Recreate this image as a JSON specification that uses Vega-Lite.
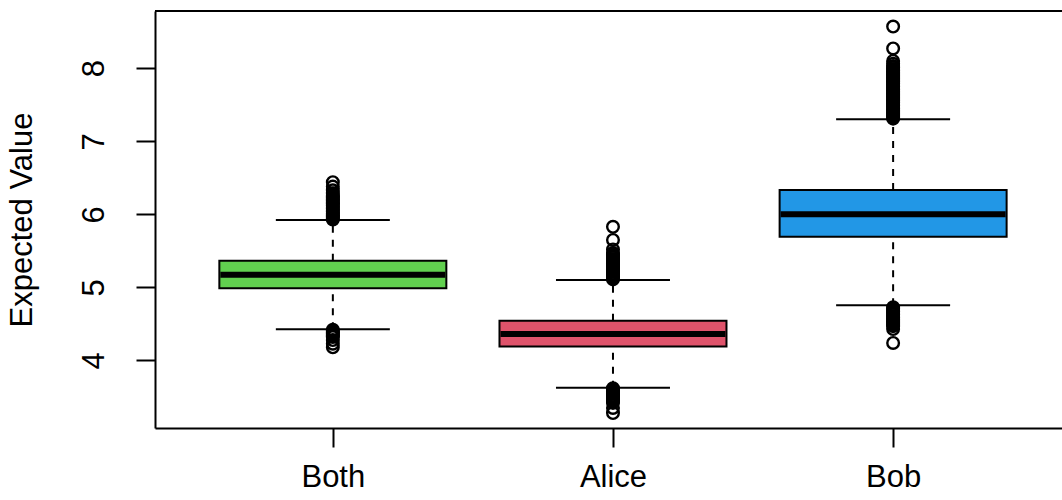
{
  "$schema": "https://vega.github.io/schema/vega-lite/v6.json",
  "width": 907,
  "height": 417,
  "autosize": {"type": "none"},
  "padding": {"left": 155, "top": 11, "right": 0, "bottom": 72},
  "background": "white",
  "config": {
    "view": {"stroke": null},
    "font": "Liberation Sans",
    "axis": {"grid": false, "domainColor": "black", "domainWidth": 2, "tickColor": "black", "tickWidth": 2, "tickSize": 19, "labelColor": "black", "titleColor": "black", "labelFont": "Liberation Sans", "titleFont": "Liberation Sans", "labelFontSize": 31, "titleFontSize": 31, "titleFontWeight": "normal"}
  },
  "datasets": {
    "boxes": [
      {"g": "Both", "pos": 1, "lo": 4.427, "q1": 4.99, "median": 5.174, "q3": 5.366, "hi": 5.923},
      {"g": "Alice", "pos": 2, "lo": 3.628, "q1": 4.19, "median": 4.363, "q3": 4.545, "hi": 5.10},
      {"g": "Bob", "pos": 3, "lo": 4.755, "q1": 5.695, "median": 6.0, "q3": 6.333, "hi": 7.30}
    ],
    "outliers": [
      {"g": "Both", "pos": 1, "v": 6.44}, {"g": "Both", "pos": 1, "v": 6.38}, {"g": "Both", "pos": 1, "v": 6.33}, {"g": "Both", "pos": 1, "v": 6.29}, {"g": "Both", "pos": 1, "v": 6.26}, {"g": "Both", "pos": 1, "v": 6.24}, {"g": "Both", "pos": 1, "v": 6.22}, {"g": "Both", "pos": 1, "v": 6.20}, {"g": "Both", "pos": 1, "v": 6.18}, {"g": "Both", "pos": 1, "v": 6.16}, {"g": "Both", "pos": 1, "v": 6.14}, {"g": "Both", "pos": 1, "v": 6.12}, {"g": "Both", "pos": 1, "v": 6.10}, {"g": "Both", "pos": 1, "v": 6.08}, {"g": "Both", "pos": 1, "v": 6.06}, {"g": "Both", "pos": 1, "v": 6.04}, {"g": "Both", "pos": 1, "v": 6.02}, {"g": "Both", "pos": 1, "v": 6.00}, {"g": "Both", "pos": 1, "v": 5.98}, {"g": "Both", "pos": 1, "v": 5.96}, {"g": "Both", "pos": 1, "v": 5.94}, {"g": "Both", "pos": 1, "v": 5.93},
      {"g": "Both", "pos": 1, "v": 4.42}, {"g": "Both", "pos": 1, "v": 4.40}, {"g": "Both", "pos": 1, "v": 4.38}, {"g": "Both", "pos": 1, "v": 4.36}, {"g": "Both", "pos": 1, "v": 4.34}, {"g": "Both", "pos": 1, "v": 4.32}, {"g": "Both", "pos": 1, "v": 4.28}, {"g": "Both", "pos": 1, "v": 4.23}, {"g": "Both", "pos": 1, "v": 4.18},
      {"g": "Alice", "pos": 2, "v": 5.83}, {"g": "Alice", "pos": 2, "v": 5.65}, {"g": "Alice", "pos": 2, "v": 5.52}, {"g": "Alice", "pos": 2, "v": 5.47}, {"g": "Alice", "pos": 2, "v": 5.45}, {"g": "Alice", "pos": 2, "v": 5.43}, {"g": "Alice", "pos": 2, "v": 5.41}, {"g": "Alice", "pos": 2, "v": 5.39}, {"g": "Alice", "pos": 2, "v": 5.37}, {"g": "Alice", "pos": 2, "v": 5.35}, {"g": "Alice", "pos": 2, "v": 5.33}, {"g": "Alice", "pos": 2, "v": 5.31}, {"g": "Alice", "pos": 2, "v": 5.29}, {"g": "Alice", "pos": 2, "v": 5.27}, {"g": "Alice", "pos": 2, "v": 5.25}, {"g": "Alice", "pos": 2, "v": 5.23}, {"g": "Alice", "pos": 2, "v": 5.21}, {"g": "Alice", "pos": 2, "v": 5.19}, {"g": "Alice", "pos": 2, "v": 5.17}, {"g": "Alice", "pos": 2, "v": 5.15}, {"g": "Alice", "pos": 2, "v": 5.13}, {"g": "Alice", "pos": 2, "v": 5.11},
      {"g": "Alice", "pos": 2, "v": 3.62}, {"g": "Alice", "pos": 2, "v": 3.60}, {"g": "Alice", "pos": 2, "v": 3.58}, {"g": "Alice", "pos": 2, "v": 3.56}, {"g": "Alice", "pos": 2, "v": 3.54}, {"g": "Alice", "pos": 2, "v": 3.52}, {"g": "Alice", "pos": 2, "v": 3.50}, {"g": "Alice", "pos": 2, "v": 3.48}, {"g": "Alice", "pos": 2, "v": 3.46}, {"g": "Alice", "pos": 2, "v": 3.44}, {"g": "Alice", "pos": 2, "v": 3.42}, {"g": "Alice", "pos": 2, "v": 3.35}, {"g": "Alice", "pos": 2, "v": 3.28},
      {"g": "Bob", "pos": 3, "v": 8.57}, {"g": "Bob", "pos": 3, "v": 8.27}, {"g": "Bob", "pos": 3, "v": 8.10}, {"g": "Bob", "pos": 3, "v": 8.06}, {"g": "Bob", "pos": 3, "v": 8.03}, {"g": "Bob", "pos": 3, "v": 8.01}, {"g": "Bob", "pos": 3, "v": 7.99}, {"g": "Bob", "pos": 3, "v": 7.97}, {"g": "Bob", "pos": 3, "v": 7.95}, {"g": "Bob", "pos": 3, "v": 7.93}, {"g": "Bob", "pos": 3, "v": 7.91}, {"g": "Bob", "pos": 3, "v": 7.89}, {"g": "Bob", "pos": 3, "v": 7.87}, {"g": "Bob", "pos": 3, "v": 7.85}, {"g": "Bob", "pos": 3, "v": 7.83}, {"g": "Bob", "pos": 3, "v": 7.81}, {"g": "Bob", "pos": 3, "v": 7.79}, {"g": "Bob", "pos": 3, "v": 7.77}, {"g": "Bob", "pos": 3, "v": 7.75}, {"g": "Bob", "pos": 3, "v": 7.73}, {"g": "Bob", "pos": 3, "v": 7.71}, {"g": "Bob", "pos": 3, "v": 7.69}, {"g": "Bob", "pos": 3, "v": 7.67}, {"g": "Bob", "pos": 3, "v": 7.65}, {"g": "Bob", "pos": 3, "v": 7.63}, {"g": "Bob", "pos": 3, "v": 7.61}, {"g": "Bob", "pos": 3, "v": 7.59}, {"g": "Bob", "pos": 3, "v": 7.57}, {"g": "Bob", "pos": 3, "v": 7.55}, {"g": "Bob", "pos": 3, "v": 7.53}, {"g": "Bob", "pos": 3, "v": 7.51}, {"g": "Bob", "pos": 3, "v": 7.49}, {"g": "Bob", "pos": 3, "v": 7.47}, {"g": "Bob", "pos": 3, "v": 7.45}, {"g": "Bob", "pos": 3, "v": 7.43}, {"g": "Bob", "pos": 3, "v": 7.41}, {"g": "Bob", "pos": 3, "v": 7.39}, {"g": "Bob", "pos": 3, "v": 7.37}, {"g": "Bob", "pos": 3, "v": 7.35}, {"g": "Bob", "pos": 3, "v": 7.33}, {"g": "Bob", "pos": 3, "v": 7.31},
      {"g": "Bob", "pos": 3, "v": 4.73}, {"g": "Bob", "pos": 3, "v": 4.71}, {"g": "Bob", "pos": 3, "v": 4.69}, {"g": "Bob", "pos": 3, "v": 4.67}, {"g": "Bob", "pos": 3, "v": 4.65}, {"g": "Bob", "pos": 3, "v": 4.63}, {"g": "Bob", "pos": 3, "v": 4.61}, {"g": "Bob", "pos": 3, "v": 4.59}, {"g": "Bob", "pos": 3, "v": 4.57}, {"g": "Bob", "pos": 3, "v": 4.55}, {"g": "Bob", "pos": 3, "v": 4.53}, {"g": "Bob", "pos": 3, "v": 4.51}, {"g": "Bob", "pos": 3, "v": 4.49}, {"g": "Bob", "pos": 3, "v": 4.47}, {"g": "Bob", "pos": 3, "v": 4.43}, {"g": "Bob", "pos": 3, "v": 4.24}
    ]
  },
  "encoding": {
    "x": {"field": "pos", "type": "quantitative", "title": null, "scale": {"domain": [0.383, 3.585], "nice": false, "zero": false},
      "axis": {"values": [1, 2, 3], "title": null, "labelExpr": "datum.value == 1 ? 'Both' : datum.value == 2 ? 'Alice' : 'Bob'", "labelPadding": 15, "labelBaseline": "top", "labelAlign": "center", "labelFlush": false, "labelOverlap": false}}
  },
  "layer": [
    {
      "data": {"name": "boxes"},
      "mark": {"type": "rule", "color": "black", "strokeWidth": 2, "strokeDash": [7, 7]},
      "encoding": {
        "y": {"field": "q3", "type": "quantitative", "title": "Expected Value", "scale": {"domain": [3.076, 8.783], "nice": false, "zero": false},
          "axis": {"values": [4, 5, 6, 7, 8], "format": "d", "title": "Expected Value", "labelAngle": -90, "labelAlign": "center", "labelBaseline": "bottom", "labelPadding": 26, "labelFlush": false, "labelOverlap": false, "titleAngle": -90, "titleX": -133, "titleY": 208.5, "titleAlign": "center", "titleBaseline": "middle"}},
        "y2": {"field": "hi"}
      }
    },
    {
      "data": {"name": "boxes"},
      "mark": {"type": "rule", "color": "black", "strokeWidth": 2, "strokeDash": [7, 7]},
      "encoding": {
        "y": {"field": "lo", "type": "quantitative", "title": "Expected Value"},
        "y2": {"field": "q1"}
      }
    },
    {
      "data": {"name": "boxes"},
      "mark": {"type": "tick", "orient": "horizontal", "color": "black", "size": 114, "thickness": 2, "opacity": 1},
      "encoding": {
        "y": {"field": "hi", "type": "quantitative", "title": "Expected Value"}
      }
    },
    {
      "data": {"name": "boxes"},
      "mark": {"type": "tick", "orient": "horizontal", "color": "black", "size": 114, "thickness": 2, "opacity": 1},
      "encoding": {
        "y": {"field": "lo", "type": "quantitative", "title": "Expected Value"}
      }
    },
    {
      "data": {"name": "boxes"},
      "mark": {"type": "bar", "size": 227, "stroke": "black", "strokeWidth": 2, "opacity": 1},
      "encoding": {
        "y": {"field": "q1", "type": "quantitative", "title": "Expected Value"},
        "y2": {"field": "q3"},
        "fill": {"field": "g", "type": "nominal", "scale": {"domain": ["Both", "Alice", "Bob"], "range": ["#61D04F", "#DF536B", "#2297E6"]}, "legend": null}
      }
    },
    {
      "data": {"name": "boxes"},
      "mark": {"type": "tick", "orient": "horizontal", "color": "black", "size": 225, "thickness": 6, "opacity": 1},
      "encoding": {
        "y": {"field": "median", "type": "quantitative", "title": "Expected Value"}
      }
    },
    {
      "data": {"name": "outliers"},
      "mark": {"type": "point", "shape": "circle", "filled": false, "stroke": "black", "strokeWidth": 2.4, "size": 135, "opacity": 1},
      "encoding": {
        "y": {"field": "v", "type": "quantitative", "title": "Expected Value"}
      }
    },
    {
      "data": {"name": "boxes"},
      "mark": {"type": "rule", "color": "black", "strokeWidth": 2},
      "encoding": {
        "x": null,
        "y": {"datum": 8.783, "type": "quantitative", "title": "Expected Value"}
      }
    }
  ]
}
